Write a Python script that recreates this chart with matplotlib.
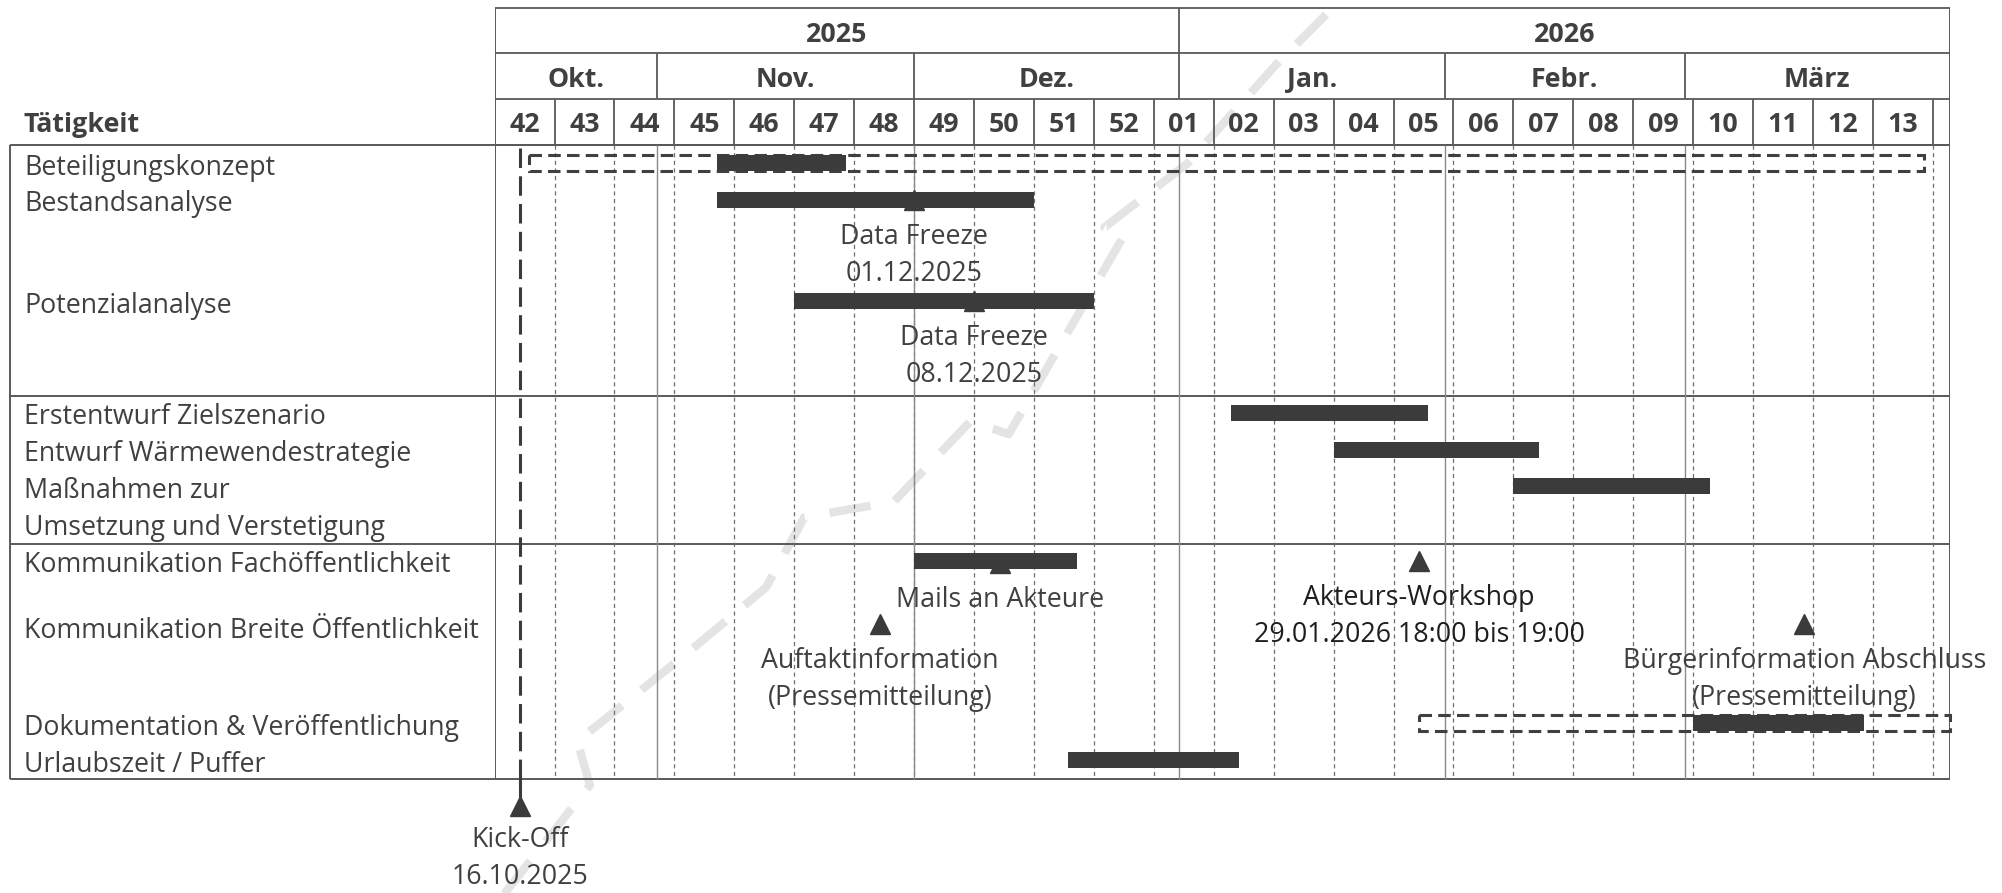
import matplotlib
matplotlib.use('Agg')
import matplotlib.pyplot as plt
import matplotlib.dates as mdates
from matplotlib.patches import Rectangle
import pandas as pd

plt.rcParams['font.family'] = ['Open Sans', 'DejaVu Sans']
plt.rcParams['lines.scale_dashes'] = False

# ---- data ----
years = ['2025', '2026']
year_bounds = ['2025-10-13', '2026-01-01', '2026-04-01']
months = ['Okt.', 'Nov.', 'Dez.', 'Jan.', 'Febr.', 'März']
month_bounds = ['2025-10-13', '2025-11-01', '2025-12-01', '2026-01-01',
                '2026-02-01', '2026-03-01', '2026-04-01']
weeks = ['42', '43', '44', '45', '46', '47', '48', '49', '50', '51', '52',
         '01', '02', '03', '04', '05', '06', '07', '08', '09', '10', '11', '12', '13']

tasks = ['Beteiligungskonzept', 'Bestandsanalyse', 'Potenzialanalyse',
         'Erstentwurf Zielszenario', 'Entwurf Wärmewendestrategie',
         'Maßnahmen zur\nUmsetzung und Verstetigung',
         'Kommunikation Fachöffentlichkeit', 'Kommunikation Breite Öffentlichkeit',
         'Dokumentation & Veröffentlichung', 'Urlaubszeit / Puffer']

bar_task = [0, 1, 2, 3, 4, 5, 6, 8, 9]
bar_start = ['2025-11-08', '2025-11-08', '2025-11-17', '2026-01-07', '2026-01-19',
             '2026-02-09', '2025-12-01', '2026-03-02', '2025-12-19']
bar_end = ['2025-11-23', '2025-12-15', '2025-12-22', '2026-01-30', '2026-02-12',
           '2026-03-04', '2025-12-20', '2026-03-22', '2026-01-08']

frame_task = [0, 8]
frame_start = ['2025-10-17', '2026-01-29']
frame_end = ['2026-03-29', '2026-04-01']

milestones = ['Kick-Off\n16.10.2025', 'Data Freeze\n01.12.2025', 'Data Freeze\n08.12.2025',
              'Mails an Akteure', 'Akteurs-Workshop\n29.01.2026 18:00 bis 19:00',
              'Auftaktinformation\n(Pressemitteilung)',
              'Bürgerinformation Abschluss\n(Pressemitteilung)']
ms_dates = ['2025-10-16', '2025-12-01', '2025-12-08', '2025-12-11', '2026-01-29',
            '2025-11-27', '2026-03-15']

# ---- layout (pixels) ----
W, H = 2002, 893
X0, X1, LEFT = 494.6, 1950, 10
Y_TOP, Y_YEAR, Y_MONTH, Y_BODY, Y_BOT = 8, 53, 99, 145, 779
SEPS = [396, 544]
label_y = [165, 202, 303, 415, 452, 488, 563, 628, 725, 762]
ms_y = [806, 200, 301, 563, 561, 624, 624]
ms_text_off = [34, 37, 37, 37, 37, 37, 37]
ms_color = ['#404040', '#404040', '#404040', '#404040', '#1e1e1e', '#404040', '#404040']
LINE = 37
BAR_H = 16
FS = 19.3

TXT = '#404040'
GRID = '#595959'
BAR = '#3b3b3b'

d = mdates.datestr2num
mondays = mdates.date2num(pd.date_range('2025-10-13', '2026-03-30', freq='7D').to_pydatetime())

fig = plt.figure(figsize=(W / 100, H / 100), dpi=100)
bg = fig.add_axes([0, 0, 1, 1])
bg.set_xlim(0, W)
bg.set_ylim(H, 0)
bg.axis('off')

ax = fig.add_axes([X0 / W, 0, (X1 - X0) / W, 1])
ax.set_xlim(d(year_bounds[0]), d(year_bounds[-1]))
ax.set_ylim(H, 0)
ax.axis('off')
ax.patch.set_alpha(0)

# faint watermark stroke
wm = [(395, 700), (462, 615), (452, 580), (468, 568), (540, 510), (600, 460), (630, 405),
      (700, 393), (760, 330), (790, 340), (880, 185), (865, 178), (930, 128), (1000, 50), (1050, 0)]
bg.plot([p[0] * 1.2768 for p in wm], [p[1] * 1.2768 for p in wm], color='#e4e4e4',
        lw=6, ls=(0, (30, 18)), solid_capstyle='butt', zorder=0)

# header frame
xa, xb = ax.get_xlim()
ax.hlines([Y_TOP, Y_YEAR, Y_MONTH, Y_BODY], xa, xb, color=GRID, lw=1.3)
ax.vlines([xa, xb], Y_TOP, Y_BOT, color=GRID, lw=1.4)
ax.vlines([d(s) for s in year_bounds[1:-1]], Y_TOP, Y_YEAR, color=GRID, lw=1.3)
ax.vlines([d(s) for s in month_bounds[1:-1]], Y_YEAR, Y_MONTH, color=GRID, lw=1.3)
ax.vlines(list(mondays[1:]), Y_MONTH, Y_BODY, color=GRID, lw=1.3)

for i, y in enumerate(years):
    ax.text((d(year_bounds[i]) + d(year_bounds[i + 1])) / 2, (Y_TOP + Y_YEAR) / 2 + 4, y,
            ha='center', va='center', fontsize=FS, fontweight='bold', color=TXT)
for i, m in enumerate(months):
    ax.text((d(month_bounds[i]) + d(month_bounds[i + 1])) / 2, (Y_YEAR + Y_MONTH) / 2 + 4, m,
            ha='center', va='center', fontsize=FS, fontweight='bold', color=TXT)
for i, w in enumerate(weeks):
    ax.text(mondays[i] + 3.5, (Y_MONTH + Y_BODY) / 2 + 3, w,
            ha='center', va='center', fontsize=FS, fontweight='bold', color=TXT)

bg.text(24, (Y_MONTH + Y_BODY) / 2 + 3, 'Tätigkeit', ha='left', va='center',
        fontsize=FS, fontweight='bold', color=TXT)

# body frame
bg.hlines([Y_BODY] + SEPS + [Y_BOT], LEFT, X1, color=GRID, lw=1.4)
bg.vlines([LEFT], Y_BODY, Y_BOT, color=GRID, lw=1.4)

# body grid
ax.vlines(list(mondays[1:]), Y_BODY, Y_BOT, color='#6e6e6e', lw=0.9, ls=(0, (3, 2.5)))
ax.vlines([d(s) for s in month_bounds[1:-1]], Y_BODY, Y_BOT, color='#8a8a8a', lw=1.0)

# task labels
for t, y in zip(tasks, label_y):
    for k, line in enumerate(t.split('\n')):
        bg.text(24, y + 2.5 + k * LINE, line, ha='left', va='center', fontsize=FS, color=TXT)

# dashed outline frames
for ti, s, e in zip(frame_task, frame_start, frame_end):
    yc = label_y[ti] - 2.5
    ax.add_patch(Rectangle((d(s), yc - BAR_H / 2), d(e) - d(s), BAR_H, fill=False,
                           ec='#404040', lw=2.2, ls=(0, (9, 4.5)), clip_on=False, zorder=3))

# bars
starts = [d(s) for s in bar_start]
ends = [d(e) for e in bar_end]
ax.barh([label_y[t] - 2.5 for t in bar_task], [e - s for s, e in zip(starts, ends)],
        left=starts, height=BAR_H, color=BAR, zorder=4)

# kick-off line
ko = d(ms_dates[0])
ax.plot([ko, ko], [Y_BODY + 3, Y_BOT], color=BAR, lw=2.2, ls=(0, (14, 6)), zorder=3)
ax.plot([ko, ko], [Y_BOT, ms_y[0]], color=BAR, lw=2.2, zorder=3)

# milestones
for name, ds, y, off, c in zip(milestones, ms_dates, ms_y, ms_text_off, ms_color):
    x = d(ds)
    ax.plot([x], [y], marker='^', ms=15, color=BAR, ls='none', zorder=5)
    for k, line in enumerate(name.split('\n')):
        ax.text(x, y + off + k * LINE, line, ha='center', va='center', fontsize=FS,
                color=c, zorder=6)

fig.savefig('out.png', dpi=100)
